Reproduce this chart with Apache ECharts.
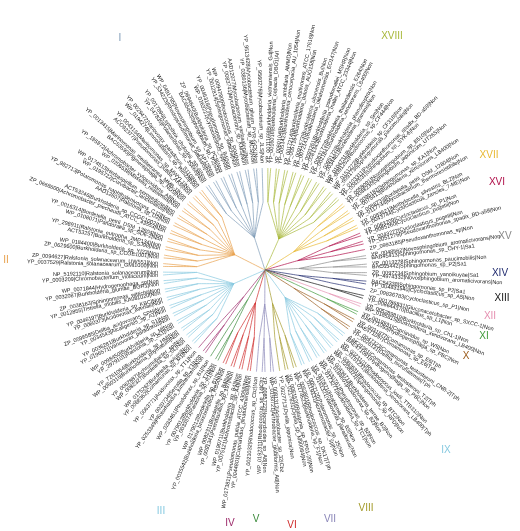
<!DOCTYPE html>
<html>
<head>
<meta charset="utf-8">
<script src="https://cdn.jsdelivr.net/npm/echarts@6/dist/echarts.min.js"></script>
<style>html,body{margin:0;background:#fff}#c{width:520px;height:531px}</style>
</head>
<body>
<div id="c"></div>
<script>
// clades in clockwise order, starting at 12 o'clock
let cladeNames = ['XVIII','XVII','XVI','XV','XIV','XIII','XII','XI','X','IX','VIII','VII','VI','V','IV','III','II','I'];
let cladeColors = ['#a8b83a','#e8b830','#b0104a','#888888','#1f2a6e','#111111','#e58fb0','#3f9a3a','#9a5a1a','#86c9e0','#a39a2a','#8a86b8','#cf2a2a','#3a8a3a','#9c2a6a','#86c9e0','#e8a04c','#7f9cb8'];
let cladeLeaves = [
  ['YP_0011169|Burkholderia_vietnamiensis_G4|Non','YP_0016016|Burkholderia_cepacia_DBO1|Arl','YP_0060104|Burkholderia_ambifaria_AMMD|Non','YP_0051423|Burkholderia_cenocepacia_AU_1054|Non','YP_0017214|Burkholderia_multivorans_ATCC_17616|Non','YP_0057164|Burkholderia_dolosa_AUO158|Non','YP_0091573|Burkholderia_ubonensis_Bu|Non','YP_0072141|Burkholderia_oklahomensis_EO147|Non','YP_0093261|Burkholderia_pseudomallei_MSHR|Non','YP_0081343|Burkholderia_mallei_ATCC_23344|Non','YP_0063172|Burkholderia_thailandensis_E264|Non','YP_0021841|Burkholderia_xenovorans_LB400|Non','YP_0095172|Burkholderia_phenoliruptrix|Non','YP_0034481|Burkholderia_graminis|Non','WP_0104731|Burkholderia_sp_Sm|Non','YP_0091252|Rhodococcus_sp_CF444|Non','WP_0151272|Burkholderia_sp_CF318|Non','YP_0091736|Sphingomonas_paucimobilis|Non','YP_0103311|Pseudoxanthomonas_spadix_BD-a59|Non','YP_0042531|Sphingobium_sp_SYK-6|Non'],
  ['YP_0058091|Novosphingobium_sp_B510|Non','YP_0048230|Sphingobium_japonicum_UT26S|Non','YP_0095182|Sphingomonas_sp_KA1|Non','YP_0075413|Burkholderia_xenovorans_LB400|Non','YP_0088733|Bordetella_petrii_DSM_12804|Non','YP_0117744|Mycobacterium_thermoresistibile|Non','YP_0083621|Methylocella_silvestris_BL2|Non','YP_0043744|Cycloclasticus_zancles_7-ME|Non'],
  ['YP_0063209|Cycloclasticus_sp_P1|Non','YP_0085260|Cycloclasticus_pugetii|Non','YP_0043277|Cycloclasticus_pugetii|Non','YP_0051276|Pseudoxanthomonas_spadix_BD-a59|Non','ZP_0993185|Pseudoxanthomonas_sp|Non'],
  ['YP_0048562|Novosphingobium_aromaticivorans|Non','BAD45413|Sphingomonas_sp_CHY-1|Sa1','YP_0013278|Sphingomonas_paucimobilis|Non','BAC65442|Sphingomonas_sp_P2|Sa1','ZP_0097234|Sphingobium_yanoikuyae|Sa1','YP_4974332|Novosphingobium_aromaticivorans|Non'],
  ['BAC54338|Sphingomonas_sp_P2|Sa1','YP_004831540|Cycloclasticus_sp_A5|Non','ZP_09836783|Cycloclasticus_sp_P1|Non'],
  ['YP_001786831|Gluconacetobacter_sp_SXCC-1|Non','YP_008644370|Bacillus_sp_L1|Non'],
  ['YP_005289819|Burkholderia_sp_Ch1-1|Non','WP_0185815|Burkholderia_xenovorans_LB400|Non'],
  ['YP_0018931|Cupriavidus_sp_WS|Non','BAE471093|Hydrogenophaga_sp_PBC|Non'],
  ['YP_0031877|Comamonas_sp_E6|Tph','BAE471097|Comamonas_sp_E6|Tph','YP_0047323|Comamonas_testosteroni_CNB-2|Tph','YP_0026131|Delftia_tsuruhatensis|Tph'],
  ['AAK29361|Comamonas_testosteroni_T2|Tph','BAE471091|Hydrogenophaga_sp_PBC|Non','YP_0023101|Rhodococcus_jostii_TTB310|Non','WP_0151231|Burkholderia_xenovorans_LB400|Tph','YP_0060631|Rhodococcus_sp_BTC|Non','WP_0208321|Sphingomonas_sp_RPD|Non','YP_0043471|Burkholderia_terrae_B2|Non','WP_0184601|Acidovorax_sp_B2|Non','YP_0030761|Pseudomonas_sp_B2|Non','WP_0173271|Burkholderia_sp_TC1|Non','YP_0078210|Ralstonia_sp_B3|Non','WP_0161321|Variovorax_paradoxus|Non','YP_0052120|Polaromonas_sp_JS|Non','WP_0119331|Achromobacter_sp|Non'],
  ['YP_0053801|Rhodococcus_sp_DK17|Tph','WP_0174523|Burkholderia_sp_F1|Non','YP_0061520|Ralstonia_sp_EP01-20|Non','WP_0217831|Dyella_sp_M90084|Non','YP_0027713|Dyella_japonica|Non'],
  ['YP_0081312|Acinetobacter_sp_32|Cbz','WP_0193721|Arthrobacter_globiformis_A8|Non','YP_0085722|Nocardioides_sp_A8|Non','WP_0192311|Rhodococcus_sp_14|Cbz','YP_0021032|Rhodococcus_sp_Cbz|Non'],
  ['YP_0044801|Cupriavidus_pinatubonensis|Non','WP_0173811|Pseudomonas_putida_ATCC_43058|Non','YP_0075121|Achromobacter_sp_A4|Non','WP_0190711|Burkholderia_sp_B4|Non','YP_0091341|Paenibacillus_sp_197|Non','WP_0082311|Bordetella_sp_B4|Non','YP_0035542|Burkholderia_bronchiseptica_RB50|Non','WP_0179012|Bordetella_sp_B1|Non'],
  ['YP_0033573|Ralstonia_sp_R1|Non','YP_0079012|Burkholderia_sp_T7|Non','WP_0283461|Rhodoferax_sp_B1|Non'],
  ['YP_0253349|Photorhabdus_luminescens|Non','YP_0020734|Serratia_sp_Y1|Non','YP_0063771|Acidovorax_sp_TT1|Non'],
  ['YP_0068362|Comamonas_sp_M1|Non','WP_0175262|Bordetella_avium|Non','WP_0082327|Bordetella_sp_SL|Non','YP_0062887|Achromobacter_sp|Non','WP_0060316|Burkholderia_phymatum|Non','YP_7261054|Burkholderia_sp_HM|Non','YP_2979101|Ralstonia_sp_JS1|Non','WP_0098450|Burkholderia_sp_M|Non','YP_0196571|Variovorax_paradoxus|Non','YP_0036281|Burkholderia_sp_S1|Non','YP_0034543|Alcaligenes_sp_A1|Non','ZP_0596585|Delftia_acidovorans_SPH|Non','YP_0060373|Acidovorax_avenae|Non','YP_0046197|Burkholderia_sp_KBC|Non','YP_0012855|Tistrella_mobilis_KA081020|Non','ZP_0038163|Sphingomonas_wittichii|Non','YP_0032087|Burkholderia_glumae_BGR1|Non','WP_0071844|Hydrogenophaga_sp|Non','YP_0003209|Chromobacterium_violaceum|Non','NP_5192110|Ralstonia_solanacearum|Non'],
  ['YP_0037529|Ralstonia_solanacearum_GMI1000|Non','ZP_0094627|Ralstonia_solanacearum_UW551|Non','ZP_0629600|Burkholderia_sp_CCGE1001|Non','WP_0184400|Burkholderia_sp_YI23|Non','ACT53257|Burkholderia_sp_SJ98|Non','YP_298911|Ralstonia_eutropha_JMP134|Non','WP_0108071|Pandoraea_sp_SD6-2|Non','YP_0016314|Bordetella_petrii_DSM_12804|Non','ZP_0668600|Achromobacter_piechaudii_ATCC_43553|Non','ACT53246|Burkholderia_sp_CCGE1002|Non','AAD12607|Ralstonia_sp_U2|Non','YP_982713|Polaromonas_naphthalenivorans_CJ2|Non','WP_0195722|Curvibacter_lanceolatus|Non','WP_0174513|Herbaspirillum_seropedicae|Non','WP_0206538|Massilia_niastensis|Non','YP_195872|Achromobacter_xylosoxidans_A8|Non','BAC53590|Pigmentiphaga_sp_NDS|Non','YP_0013415|Marinomonas_mediterranea_MMB-1|Non','ACO92377|Pseudomonas_putida_AK5|Non','YP_0043134|Marinomonas_sp_MWYL1|Non','WP_0194274|Limnohabitans_sp_Rim28|Non','YP_0029472|Variovorax_paradoxus_S110|Non'],
  ['YP_547835|Polaromonas_sp_JS666|Non','YP_0017896|Leptothrix_cholodnii_SP-6|Non','YP_534223|Rhodopseudomonas_palustris|Non','WP_0491795|Novosphingobium_sp_AP12|Non','BAC65453|Sphingobium_sp_P2|Sa1','ZP_0894640|Burkholderia_sp_PCB|Non','WP_0163222|Cycloclasticus_sp|Non','YP_0046318|Pseudomonas_sp_B4|Non','YP_0012814|Sphingomonas_wittichii|Non','WP_0094780|Rhodococcus_sp_R04|Non','YP_0083741|Mycobacterium_sp_KMS|Non','AAD12077|Mycobacterium_vanbaalenii|Non','YP_0389136|Mycobacterium_sp_MCS|Non','YP_9513428|Mycobacterium_gilvum_PYR-GCK|Non','YP_9560276|Mycobacterium_sp_JLS|Non']
];
let roman = {
  XIV:[500,273], XIII:[502,298], XII:[490,316], XI:[484,336], X:[466,356], IX:[446,450], VIII:[366,508], VII:[330,519], VI:[292,525],
  V:[256,519], IV:[230,523], III:[161,511], II:[6,260], I:[120,38], XVIII:[392,36], XVII:[489,155], XVI:[497,182], XV:[505,236]
};

function buildClade(ci) {
  let leaves = cladeLeaves[ci];
  let col = cladeColors[ci];
  let groups = [];
  for (let i = 0; i < leaves.length; i += 2) {
    groups.push({
      name: '', lineStyle: {color: col},
      children: leaves.slice(i, i + 2).map(n => ({name: n, lineStyle: {color: col}}))
    });
  }
  return {name: '', lineStyle: {color: col}, children: groups};
}
let root = {name: '', children: cladeNames.map((c, i) => buildClade(i))};

let chart = echarts.init(document.getElementById('c'));
chart.setOption({
  animation: false,
  series: [{
    type: 'tree',
    layout: 'radial',
    data: [root],
    left: 163, top: 168, width: 204, height: 204,
    symbol: 'none',
    expandAndCollapse: false,
    initialTreeDepth: -1,
    roam: false,
    lineStyle: {color: '#888', width: 0.7, curveness: 0},
    label: {fontSize: 5.5, color: '#222', fontFamily: 'Liberation Sans'},
    leaves: {label: {fontSize: 5.5, color: '#222', fontFamily: 'Liberation Sans'}}
  }],
  graphic: cladeNames.map((c, i) => ({
    type: 'text',
    x: roman[c][0], y: roman[c][1],
    style: {text: c, fill: cladeColors[i], font: '10px "Liberation Sans"', textAlign: 'center', textVerticalAlign: 'middle'}
  }))
});
</script>
</body>
</html>
